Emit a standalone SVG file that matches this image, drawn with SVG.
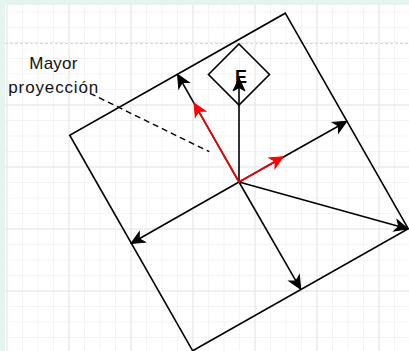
<svg xmlns="http://www.w3.org/2000/svg" width="409" height="351" viewBox="0 0 409 351">
  <style>
    .edge { fill: none; stroke: #000; stroke-width: 1.6; }
    .red { fill: none; stroke: #ff0000; stroke-width: 1.6; }
    .shape { fill: none; stroke: #000; stroke-width: 1.6; stroke-linejoin: miter; }
    .lbl { font-family: "Liberation Sans", Arial, sans-serif; font-size: 17px; fill: #111; }
    .e { font-family: "Liberation Sans", Arial, sans-serif; font-size: 18px; font-weight: bold; fill: #000; }
  </style>
  <defs>
    <pattern id="minor" x="6.5" y="11.5" width="15.5" height="15.5" patternUnits="userSpaceOnUse">
      <path d="M0.5,0 V15.5 M0,0.5 H15.5" stroke="#f3f3f3" stroke-width="1" fill="none"/>
    </pattern>
    <pattern id="major" x="6.5" y="42.5" width="62" height="62" patternUnits="userSpaceOnUse">
      <path d="M0.5,0 V62 M0,0.5 H62" stroke="#e7e7e7" stroke-width="1" fill="none"/>
    </pattern>
    <marker id="ab" markerUnits="userSpaceOnUse" markerWidth="30" markerHeight="30" refX="0" refY="0" orient="auto" overflow="visible">
      <path d="M9,0 L-4,-6 L-0.5,0 L-4,6 Z" fill="#000" stroke="#000" stroke-width="1"/>
    </marker>
    <marker id="ar" markerUnits="userSpaceOnUse" markerWidth="30" markerHeight="30" refX="0" refY="0" orient="auto" overflow="visible">
      <path d="M9,0 L-4,-6 L-0.5,0 L-4,6 Z" fill="#ff0000" stroke="#ff0000" stroke-width="1"/>
    </marker>
  </defs>

  <!-- background -->
  <rect x="0" y="0" width="409" height="351" fill="#e6f4ef"/>
  <rect x="5" y="5" width="404" height="346" fill="#ffffff"/>
  <rect x="5" y="5" width="404" height="346" fill="url(#minor)"/>
  <rect x="5" y="5" width="404" height="346" fill="url(#major)"/>
  <line x1="5" y1="43.5" x2="409" y2="43.5" stroke="#ffffff" stroke-width="1.2"/>
  <line x1="5" y1="43.5" x2="409" y2="43.5" stroke="#d8d8d8" stroke-width="1" stroke-dasharray="3 2"/>

  <!-- nodes -->
  <g id="square">
    <polygon class="shape" points="285.3,13.2 408.3,228.8 192.7,350.8 69.7,135.2"/>
  </g>
  <g id="diamond-E">
    <polygon class="shape" points="239,44 269.5,74.5 239,105 208.5,74.5"/>
    <text class="e" x="241" y="83" text-anchor="middle">E</text>
  </g>
  <g id="label-mayor-proyeccion">
    <text class="lbl" x="29.3" y="69" textLength="48" lengthAdjust="spacing">Mayor</text>
    <text class="lbl" x="8.3" y="93" textLength="90" lengthAdjust="spacing">proyección</text>
  </g>

  <!-- connectors -->
  <g id="connectors">
    <line class="edge" x1="239" y1="182" x2="239" y2="87" marker-end="url(#ab)"/>
    <line class="edge" x1="239" y1="182" x2="182" y2="82.1" marker-end="url(#ab)"/>
    <line class="edge" x1="239" y1="182" x2="339" y2="125.7" marker-end="url(#ab)"/>
    <line class="edge" x1="239" y1="182" x2="138.8" y2="239" marker-end="url(#ab)"/>
    <line class="edge" x1="239" y1="182" x2="296.2" y2="281.4" marker-end="url(#ab)"/>
    <line class="edge" x1="239" y1="182" x2="399.3" y2="226.4" marker-end="url(#ab)"/>
    <line class="red" x1="239" y1="182" x2="198.5" y2="110.8" marker-end="url(#ar)"/>
    <line class="red" x1="239" y1="182" x2="275.5" y2="161.1" marker-end="url(#ar)"/>
    <line x1="90" y1="93.3" x2="209.3" y2="151.7" stroke="#000" stroke-width="1.4" stroke-dasharray="6 4"/>
  </g>
</svg>
